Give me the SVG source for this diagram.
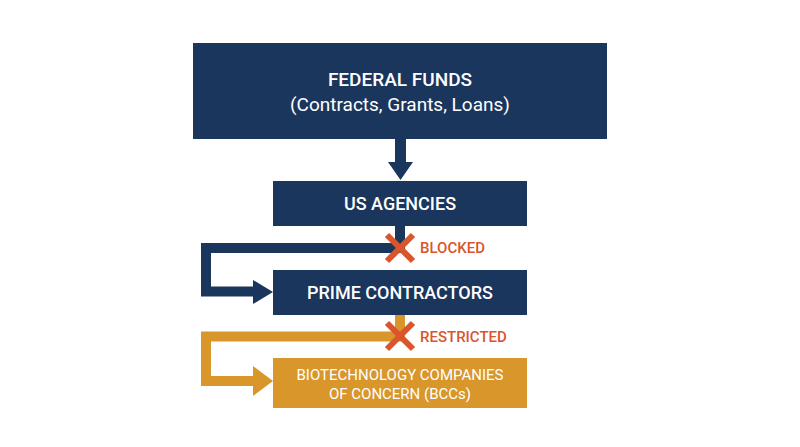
<svg xmlns="http://www.w3.org/2000/svg" width="800" height="447" viewBox="0 0 800 447">
<style>
.n{fill:#1b365d}.o{fill:#d8962b}
.t{font-family:Roboto,"Liberation Sans",sans-serif;fill:#fff;text-anchor:middle}
.x{stroke:#d9552b;stroke-width:6;stroke-linecap:butt}
.l{font-family:Roboto,"Liberation Sans",sans-serif;font-weight:500;font-size:15px;fill:#d9552b}
</style>
<rect width="800" height="447" fill="#fff"/>
<g id="connectors">
<rect class="n" x="395" y="139" width="11" height="24"/>
<polygon class="n" points="388,162 413,162 400.5,180"/>
<path d="M400 226 V248 H206 V291.5 H256" fill="none" stroke="#1b365d" stroke-width="10"/>
<polygon class="n" points="253,280 273,292 253,304"/>
<path d="M400 315 V336.5 H206 V381 H256" fill="none" stroke="#d8962b" stroke-width="10"/>
<polygon class="o" points="253,366 273,381 253,396"/>
</g>
<g id="blocked"><path class="x" d="M387 235 L413 261 M413 235 L387 261"/><text class="l" x="420" y="253">BLOCKED</text></g>
<g id="restricted"><path class="x" d="M387 323 L413 349 M413 323 L387 349"/><text class="l" x="420" y="342">RESTRICTED</text></g>
<g id="federal"><rect class="n" x="193" y="43" width="414" height="96"/>
<text class="t" x="400" y="86" font-size="19" font-weight="500">FEDERAL FUNDS</text>
<text class="t" x="400" y="111" font-size="19">(Contracts, Grants, Loans)</text></g>
<g id="agencies"><rect class="n" x="273" y="181" width="254" height="45"/>
<text class="t" x="400" y="210" font-size="18" font-weight="500">US AGENCIES</text></g>
<g id="prime"><rect class="n" x="273" y="270" width="254" height="45"/>
<text class="t" x="400" y="299" font-size="18" font-weight="500">PRIME CONTRACTORS</text></g>
<g id="bcc"><rect class="o" x="273" y="358" width="254" height="50"/>
<text class="t" x="400" y="380" font-size="15">BIOTECHNOLOGY COMPANIES</text>
<text class="t" x="400" y="399" font-size="15">OF CONCERN (BCCs)</text></g>
</svg>
